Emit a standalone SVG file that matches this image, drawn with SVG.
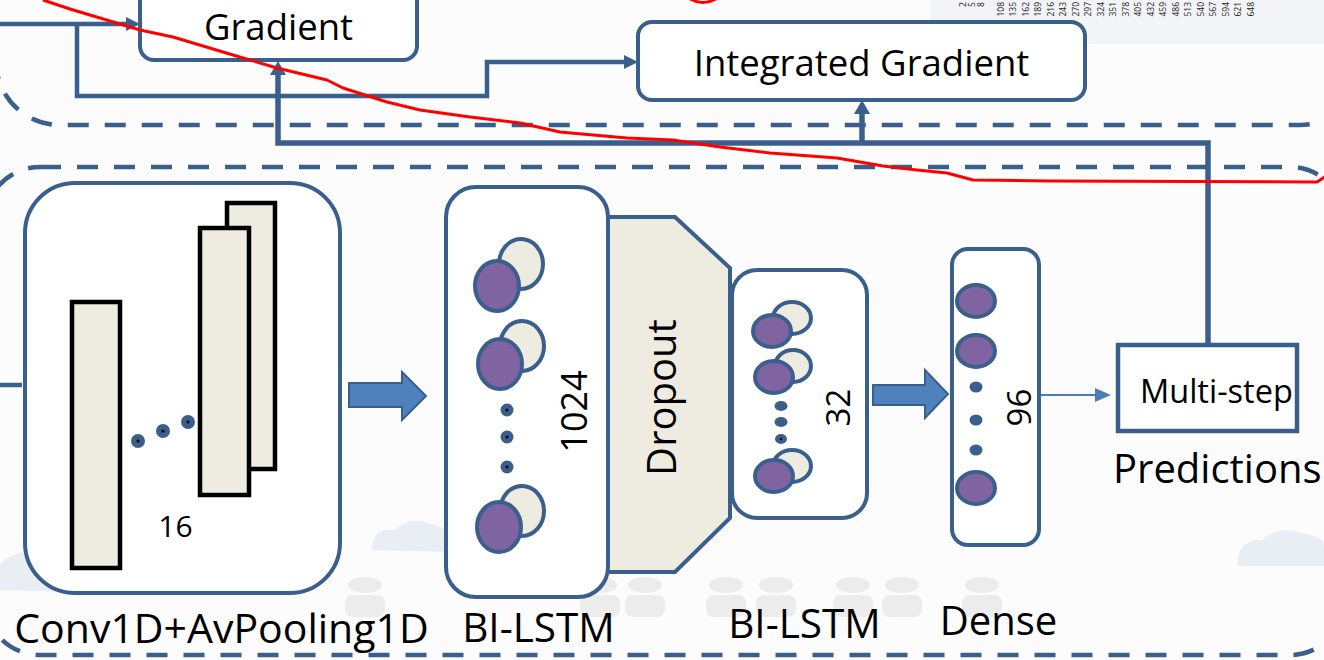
<svg xmlns="http://www.w3.org/2000/svg" width="1324" height="660" viewBox="0 0 1324 660">
  <defs>
    <style>
      .lbl { font-family: "Open Sans", "Liberation Sans", sans-serif; fill: #000; }
      .box { fill: #fff; stroke: #3b5f8c; stroke-width: 4; }
      .bar { fill: #eeece1; stroke: #000; stroke-width: 4.5; }
      .unit { fill: #8064a2; stroke: #3b5f8c; stroke-width: 4; }
      .unit-back { fill: #eeece1; stroke: #3b5f8c; stroke-width: 4; }
      .dot { fill: #3b5f8c; }
      .frame { fill: none; stroke: #3b5f8c; stroke-width: 4.5; stroke-dasharray: 21 16; }
      .link { fill: none; stroke: #3b5f8c; stroke-width: 4.5; }
      .head { fill: #3b5f8c; }
      .block { fill: #4f81bd; stroke: #3b5f8c; stroke-width: 2; }
      .tick { font-family: "Open Sans", "Liberation Sans", sans-serif; font-size: 8.5px; fill: #222; }
      .ghost-person { fill: #ececec; }
      .ghost-cloud { fill: #e9eef4; }
    </style>
  </defs>

  <!-- background -->
  <rect x="0" y="0" width="1324" height="660" fill="#fcfcfd"/>
  <rect x="930" y="0" width="394" height="44" fill="#f2f4f7"/>
  <g id="backdrop">
    <path class="ghost-cloud" d="M-10,590 Q-5,548 40,552 Q60,535 90,548 Q118,552 112,578 Q110,592 90,592 Z"/>
    <path class="ghost-cloud" d="M372,550 Q372,528 395,530 Q410,515 430,524 Q452,528 450,545 L450,552 Z"/>
    <path class="ghost-cloud" d="M1238,566 Q1236,540 1262,540 Q1280,524 1305,534 Q1324,536 1324,548 L1324,566 Z"/>
    <g class="ghost-person">
      <ellipse cx="365" cy="585" rx="17" ry="8"/><rect x="345" y="595" width="40" height="22" rx="8"/>
      <ellipse cx="600" cy="585" rx="17" ry="8"/><rect x="580" y="595" width="40" height="22" rx="8"/>
      <ellipse cx="645" cy="585" rx="17" ry="8"/><rect x="625" y="595" width="40" height="22" rx="8"/>
      <ellipse cx="726" cy="585" rx="17" ry="8"/><rect x="706" y="595" width="40" height="22" rx="8"/>
      <ellipse cx="776" cy="585" rx="17" ry="8"/><rect x="756" y="595" width="40" height="22" rx="8"/>
      <ellipse cx="853" cy="585" rx="17" ry="8"/><rect x="833" y="595" width="40" height="22" rx="8"/>
      <ellipse cx="902" cy="585" rx="17" ry="8"/><rect x="882" y="595" width="40" height="22" rx="8"/>
      <ellipse cx="982" cy="585" rx="17" ry="8"/><rect x="962" y="595" width="40" height="22" rx="8"/>
    </g>
  </g>

  <!-- axis tick labels along the top edge -->
  <g id="ticks" text-anchor="end">
    <text class="tick" transform="translate(966,2) rotate(-90)">2</text>
    <text class="tick" transform="translate(975,2) rotate(-90)">5</text>
    <text class="tick" transform="translate(984,2) rotate(-90)">8</text>
    <text class="tick" transform="translate(1003.5,2) rotate(-90)">108</text>
    <text class="tick" transform="translate(1016,2) rotate(-90)">135</text>
    <text class="tick" transform="translate(1028.5,2) rotate(-90)">162</text>
    <text class="tick" transform="translate(1041,2) rotate(-90)">189</text>
    <text class="tick" transform="translate(1053.5,2) rotate(-90)">216</text>
    <text class="tick" transform="translate(1066,2) rotate(-90)">243</text>
    <text class="tick" transform="translate(1078.5,2) rotate(-90)">270</text>
    <text class="tick" transform="translate(1091,2) rotate(-90)">297</text>
    <text class="tick" transform="translate(1103.5,2) rotate(-90)">324</text>
    <text class="tick" transform="translate(1116,2) rotate(-90)">351</text>
    <text class="tick" transform="translate(1128.5,2) rotate(-90)">378</text>
    <text class="tick" transform="translate(1141,2) rotate(-90)">405</text>
    <text class="tick" transform="translate(1153.5,2) rotate(-90)">432</text>
    <text class="tick" transform="translate(1166,2) rotate(-90)">459</text>
    <text class="tick" transform="translate(1178.5,2) rotate(-90)">486</text>
    <text class="tick" transform="translate(1191,2) rotate(-90)">513</text>
    <text class="tick" transform="translate(1203.5,2) rotate(-90)">540</text>
    <text class="tick" transform="translate(1216,2) rotate(-90)">567</text>
    <text class="tick" transform="translate(1228.5,2) rotate(-90)">594</text>
    <text class="tick" transform="translate(1241,2) rotate(-90)">621</text>
    <text class="tick" transform="translate(1253.5,2) rotate(-90)">648</text>
  </g>

  <!-- dashed groupings -->
  <g id="frames">
    <rect class="frame" x="-4" y="-200" width="1368" height="325" rx="64"/>
    <rect class="frame" x="-15" y="167" width="1360" height="488" rx="55"/>
  </g>

  <!-- connectors -->
  <g id="connectors">
    <path class="link" d="M0,24 H128"/>
    <polygon class="head" points="126,17 140,24 126,31"/>
    <path class="link" d="M77,24 V96 H487 V62 H626"/>
    <polygon class="head" points="624,55 638,62 624,69"/>
    <path class="link" style="stroke-width:5.5" d="M1208,345 V143 H278 V74"/>
    <polygon class="head" points="270,75 278,61 286,75"/>
    <path class="link" style="stroke-width:5.5" d="M862,143 V113"/>
    <polygon class="head" points="854,114 862,100 870,114"/>
    <path class="link" d="M0,385 H22"/>
    <polygon class="block" points="349,383 402,383 402,372 426,396 402,420 402,407 349,407"/>
    <polygon class="block" points="873,385 925,385 925,370 948,394 925,418 925,405 873,405"/>
    <path d="M1040,395 H1097" fill="none" stroke="#4a7ebb" stroke-width="2"/>
    <polygon points="1095,388 1111,395 1095,402" fill="#4a7ebb"/>
  </g>

  <!-- explanation nodes -->
  <g id="gradient">
    <rect class="box" x="140" y="-30" width="277" height="90" rx="14" stroke-width="4.5"/>
    <text class="lbl" x="278.5" y="40" font-size="36.5" text-anchor="middle">Gradient</text>
  </g>
  <g id="integrated-gradient">
    <rect class="box" x="638" y="22" width="447" height="78" rx="14" stroke-width="4.5"/>
    <text class="lbl" x="861.5" y="76" font-size="36.5" text-anchor="middle">Integrated Gradient</text>
  </g>

  <!-- Conv1D + average pooling block -->
  <g id="conv">
    <rect class="box" x="25" y="183" width="315" height="410" rx="50"/>
    <rect class="bar" x="72" y="302" width="48" height="266"/>
    <rect class="bar" x="227" y="203" width="48" height="266"/>
    <rect class="bar" x="200" y="228" width="49" height="267"/>
    <circle class="dot" cx="138" cy="441" r="7"/><circle cx="138" cy="441" r="1.6"/>
    <circle class="dot" cx="163" cy="431" r="7"/><circle cx="163" cy="431" r="1.6"/>
    <circle class="dot" cx="188" cy="422" r="7"/><circle cx="188" cy="422" r="1.6"/>
    <text class="lbl" x="175.5" y="537" font-size="30" text-anchor="middle">16</text>
    <text class="lbl" x="221.5" y="643" font-size="41" text-anchor="middle">Conv1D+AvPooling1D</text>
  </g>

  <!-- dropout between the recurrent layers -->
  <g id="dropout">
    <polygon points="606,217 675,217 730,268 730,518 675,572 606,572" fill="#eeece1" stroke="#3b5f8c" stroke-width="4"/>
    <text class="lbl" font-size="40" text-anchor="middle" transform="translate(676,397.5) rotate(-90)">Dropout</text>
  </g>

  <!-- first bidirectional LSTM -->
  <g id="bilstm-1024">
    <rect class="box" x="446" y="187" width="162" height="410" rx="30"/>
    <ellipse class="unit-back" cx="521" cy="264" rx="22" ry="25"/>
    <ellipse class="unit" cx="497" cy="286" rx="22" ry="25"/>
    <ellipse class="unit-back" cx="522" cy="346" rx="22" ry="25"/>
    <ellipse class="unit" cx="500" cy="364" rx="22" ry="25"/>
    <ellipse class="unit-back" cx="522" cy="511" rx="22" ry="25"/>
    <ellipse class="unit" cx="499" cy="527" rx="22" ry="25"/>
    <circle class="dot" cx="507" cy="410" r="6.5"/><circle cx="507" cy="410" r="1.5"/>
    <circle class="dot" cx="507" cy="437" r="6.5"/><circle cx="507" cy="437" r="1.5"/>
    <circle class="dot" cx="507" cy="467" r="6.5"/><circle cx="507" cy="467" r="1.5"/>
    <text class="lbl" font-size="36" text-anchor="middle" transform="translate(587,411.5) rotate(-90)">1024</text>
    <text class="lbl" x="538.5" y="642" font-size="40.5" text-anchor="middle">BI-LSTM</text>
  </g>

  <!-- second bidirectional LSTM -->
  <g id="bilstm-32">
    <rect class="box" x="732" y="270" width="135" height="248" rx="25"/>
    <ellipse class="unit-back" cx="792" cy="318" rx="19" ry="16"/>
    <ellipse class="unit" cx="772" cy="331" rx="19" ry="16"/>
    <ellipse class="unit-back" cx="793" cy="366" rx="18" ry="16"/>
    <ellipse class="unit" cx="774" cy="377" rx="19" ry="16"/>
    <ellipse class="unit-back" cx="792" cy="466" rx="19" ry="16"/>
    <ellipse class="unit" cx="774" cy="476" rx="19" ry="16"/>
    <ellipse class="dot" cx="781" cy="406" rx="6.5" ry="5"/>
    <ellipse class="dot" cx="781" cy="422" rx="6.5" ry="5"/>
    <ellipse class="dot" cx="781" cy="439" rx="6" ry="5"/><circle cx="781" cy="439" r="1.3"/>
    <text class="lbl" font-size="33" text-anchor="middle" transform="translate(850,407.5) rotate(-90)">32</text>
    <text class="lbl" x="804.5" y="638" font-size="40.5" text-anchor="middle">BI-LSTM</text>
  </g>

  <!-- dense layer -->
  <g id="dense">
    <rect class="box" x="952" y="249" width="87" height="296" rx="16"/>
    <ellipse class="unit" cx="976" cy="301" rx="19" ry="16"/>
    <ellipse class="unit" cx="976" cy="351" rx="19" ry="16"/>
    <ellipse class="unit" cx="976" cy="488" rx="19" ry="16"/>
    <ellipse class="dot" cx="976" cy="387" rx="6.5" ry="5.5"/>
    <ellipse class="dot" cx="976" cy="420" rx="6.5" ry="5.5"/>
    <ellipse class="dot" cx="976" cy="450" rx="6.5" ry="5.5"/>
    <text class="lbl" font-size="33" text-anchor="middle" transform="translate(1031,407.5) rotate(-90)">96</text>
    <text class="lbl" x="998.5" y="635" font-size="40" text-anchor="middle">Dense</text>
  </g>

  <!-- output -->
  <g id="predictions">
    <rect x="1118" y="345" width="179" height="86" fill="#fff" stroke="#3b5f8c" stroke-width="4.5"/>
    <text class="lbl" x="1140" y="403" font-size="32.5">Multi-step</text>
    <text class="lbl" x="1113" y="483" font-size="40">Predictions</text>
  </g>

  <!-- red trace drawn over everything -->
  <g id="trace" fill="none" stroke="#ff0000" stroke-width="3" stroke-linejoin="round">
    <polyline points="43,0 70,9 140,30 173,37 233,55 277,68 327,80 343,88 387,102 420,110 470,117 520,123 560,132 593,135 627,138 673,140 720,147 770,153 837,158 883,166 917,170 947,173 973,180 1050,181 1317,182 1326,176"/>
    <path d="M690,-1 Q703,6 716,-1"/>
  </g>
</svg>
